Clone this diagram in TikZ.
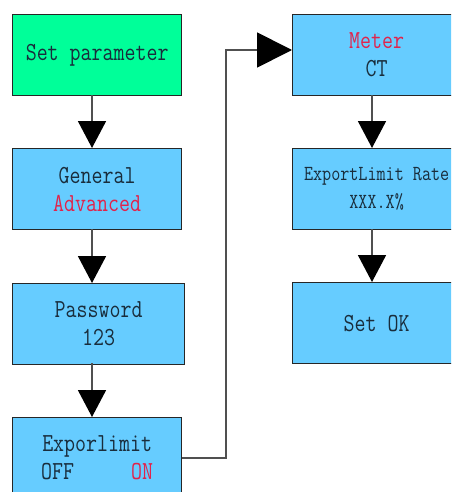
\documentclass[tikz,border=0pt]{standalone}
\usepackage{fontspec}
\setmonofont{Latin Modern Mono}[FakeStretch=0.82]
\usetikzlibrary{arrows.meta,calc}
\definecolor{boxblue}{RGB}{102,204,255}
\definecolor{boxgreen}{RGB}{0,255,153}
\definecolor{txtred}{RGB}{225,35,75}
\definecolor{txtdark}{RGB}{25,45,60}
\definecolor{linegray}{RGB}{80,80,80}
\tikzset{
  box/.style={draw=black!85, line width=1.3pt, fill=boxblue, anchor=north west,
    minimum width=169pt, minimum height=81pt, inner sep=0pt, align=center,
    text=txtdark, font=\ttfamily\fontsize{26}{28}\selectfont},
  conn/.style={draw=linegray, line width=1.8pt,
    -{Triangle[width=28pt,length=27pt,fill=black,color=black]}},
  bigconn/.style={draw=linegray, line width=1.8pt,
    -{Triangle[width=35pt,length=35pt,fill=black,color=black]}},
}
\begin{document}
\begin{tikzpicture}[x=1pt,y=-1pt]
\useasboundingbox (0,0) rectangle (451,492);
\clip (0,0) rectangle (451,492);
\node[box, fill=boxgreen] (sp) at (12,14) {Set parameter};
\node[box] (gen) at (12,148) {General\\\textcolor{txtred}{Advanced}};
\node[box, minimum width=172pt] (pw) at (12,283) {Password\\123};
\node[box, text width=112pt] (ex) at (12,417) {\hfil Exporlimit\hfil\null\\OFF\hfill\textcolor{txtred}{ON}};
\node[box, minimum width=168pt] (mt) at (292,14) {\textcolor{txtred}{Meter}\\CT};
\node[box, minimum width=168pt, font=\ttfamily\fontsize{21.5}{28}\selectfont] (el) at (292,148) {ExportLimit Rate\\XXX.X\%};
\node[box, minimum width=168pt] (ok) at (292,282) {Set OK};
\coordinate (bend) at (226,50);
\draw[conn] (92,95) -- (92,148);
\draw[conn] (92,229) -- (92,283);
\draw[conn] (92,363) -- (92,417);
\draw[conn] (372,95) -- (372,148);
\draw[conn] (372,229) -- (372,282);
\draw[bigconn] (ex.east) -| (bend) -- (bend -| mt.west);
\end{tikzpicture}
\end{document}
